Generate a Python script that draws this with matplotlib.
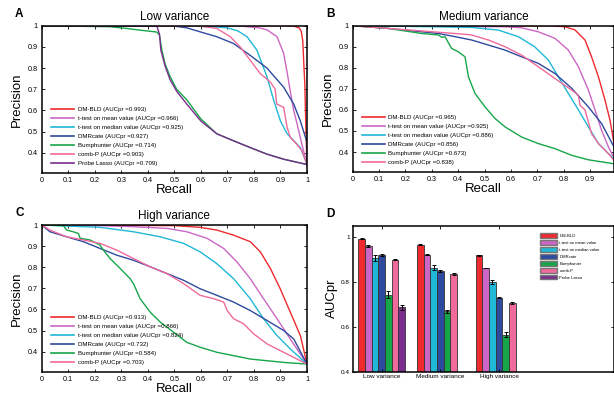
import matplotlib
matplotlib.use("Agg")
import matplotlib.pyplot as plt
import numpy as np

plt.rcParams['font.family'] = ['Liberation Sans', 'DejaVu Sans']

# ---------------- colours ----------------
C_RED = '#EE2A2F'
C_MEAN = '#CC66C4'
C_MED = '#1FB8D6'
C_DMR = '#2E4A9E'
C_BUMP = '#16A64A'
C_COMBP = '#F06A9C'
C_PL = '#7A2E8E'

# ---------------- Panel A: Low variance ----------------
a_bld_r = [0, 0.9, 0.95, 0.97, 0.978, 0.984, 0.988, 0.992, 0.995, 0.998, 1.0]
a_bld_p = [1, 1, 0.998, 0.99, 0.975, 0.93, 0.82, 0.72, 0.55, 0.42, 0.34]
a_mean_r = [0, 0.75, 0.82, 0.85, 0.887, 0.912, 0.925, 0.937, 0.95, 0.962, 0.981, 1.0]
a_mean_p = [1, 0.998, 0.99, 0.98, 0.948, 0.87, 0.78, 0.69, 0.6, 0.54, 0.44, 0.345]
a_med_r = [0, 0.5, 0.65, 0.7, 0.74, 0.774, 0.811, 0.849, 0.874, 0.9, 0.925, 0.95, 0.975, 1.0]
a_med_p = [1, 1, 0.995, 0.99, 0.975, 0.948, 0.885, 0.76, 0.65, 0.55, 0.49, 0.457, 0.425, 0.345]
a_dmr_r = [0, 0.5, 0.547, 0.6, 0.66, 0.723, 0.786, 0.849, 0.912, 0.95, 0.975, 1.0, 1.0]
a_dmr_p = [1, 0.998, 0.99, 0.97, 0.948, 0.916, 0.86, 0.8, 0.71, 0.63, 0.55, 0.45, 0.34]
a_bump_r = [0, 0.258, 0.32, 0.371, 0.434, 0.444, 0.453, 0.465, 0.484, 0.509, 0.547, 0.6, 0.66, 0.723, 0.786, 0.849, 0.912, 1.0]
a_bump_p = [1, 0.995, 0.987, 0.979, 0.97, 0.955, 0.885, 0.82, 0.76, 0.70, 0.65, 0.56, 0.49, 0.457, 0.425, 0.394, 0.37, 0.345]
a_combp_r = [0, 0.6, 0.66, 0.711, 0.748, 0.786, 0.824, 0.862, 0.88, 0.886, 0.912, 0.925, 0.937, 0.962, 0.981, 1.0]
a_combp_p = [1, 0.998, 0.987, 0.948, 0.9, 0.837, 0.774, 0.734, 0.7, 0.63, 0.615, 0.52, 0.473, 0.44, 0.41, 0.345]
a_pl_r = [0, 0.434, 0.444, 0.449, 0.465, 0.484, 0.509, 0.547, 0.6, 0.66, 0.723, 0.786, 0.849, 0.912, 1.0]
a_pl_p = [1, 0.998, 0.96, 0.885, 0.81, 0.745, 0.69, 0.63, 0.55, 0.49, 0.457, 0.425, 0.394, 0.37, 0.345]
a_labels = ['DM-BLD (AUCpr =0.993)', 't-test on mean value (AUCpr =0.966)',
            't-test on median value (AUCpr =0.925)', 'DMRcate (AUCpr =0.927)',
            'Bumphunter (AUCpr =0.714)', 'comb-P (AUCpr =0.903)',
            'Probe Lasso (AUCpr =0.709)']

# ---------------- Panel B: Medium variance ----------------
b_bld_r = [0, 0.75, 0.805, 0.843, 0.881, 0.906, 0.932, 0.957, 0.976, 0.989, 1.0]
b_bld_p = [1, 1, 0.995, 0.98, 0.932, 0.852, 0.757, 0.646, 0.55, 0.456, 0.35]
b_mean_r = [0, 0.578, 0.641, 0.704, 0.767, 0.818, 0.856, 0.894, 0.919, 0.944, 0.97, 0.989, 1.0]
b_mean_p = [1, 0.995, 0.99, 0.971, 0.94, 0.884, 0.805, 0.694, 0.6, 0.503, 0.424, 0.376, 0.35]
b_med_r = [0, 0.2, 0.45, 0.553, 0.628, 0.69, 0.742, 0.78, 0.818, 0.856, 0.894, 0.932, 0.97, 0.991, 1.0]
b_med_p = [1, 0.997, 0.992, 0.979, 0.948, 0.9, 0.837, 0.757, 0.678, 0.6, 0.519, 0.44, 0.392, 0.368, 0.35]
b_dmr_r = [0, 0.135, 0.262, 0.325, 0.388, 0.451, 0.515, 0.578, 0.641, 0.704, 0.767, 0.831, 0.894, 0.944, 0.991, 1.0]
b_dmr_p = [1, 0.987, 0.971, 0.963, 0.948, 0.932, 0.908, 0.884, 0.852, 0.821, 0.773, 0.702, 0.614, 0.535, 0.424, 0.35]
b_bump_r = [0, 0.135, 0.262, 0.325, 0.338, 0.35, 0.375, 0.401, 0.426, 0.439, 0.464, 0.502, 0.54, 0.578, 0.641, 0.704, 0.767, 0.831, 0.894, 0.991, 1.0]
b_bump_p = [1, 0.987, 0.963, 0.956, 0.945, 0.948, 0.892, 0.876, 0.852, 0.757, 0.678, 0.614, 0.559, 0.519, 0.471, 0.44, 0.416, 0.384, 0.363, 0.344, 0.342]
b_combp_r = [0, 0.135, 0.262, 0.388, 0.451, 0.515, 0.578, 0.641, 0.704, 0.767, 0.831, 0.856, 0.862, 0.881, 0.906, 0.932, 0.97, 0.991, 1.0]
b_combp_p = [1, 0.987, 0.975, 0.963, 0.956, 0.932, 0.9, 0.86, 0.805, 0.749, 0.694, 0.67, 0.622, 0.6, 0.487, 0.44, 0.392, 0.36, 0.35]
b_labels = ['DM-BLD (AUCpr =0.965)', 't-test on mean value (AUCpr =0.925)',
            't-test on median value (AUCpr =0.886)', 'DMRcate (AUCpr =0.856)',
            'Bumphunter (AUCpr =0.673)', 'comb-P (AUCpr =0.838)']

# ---------------- Panel C: High variance ----------------
c_bld_r = [0, 0.5, 0.597, 0.66, 0.723, 0.786, 0.824, 0.862, 0.899, 0.937, 0.975, 1.0]
c_bld_p = [1, 0.997, 0.989, 0.976, 0.952, 0.921, 0.873, 0.794, 0.698, 0.587, 0.476, 0.341]
c_mean_r = [0, 0.22, 0.346, 0.472, 0.547, 0.623, 0.686, 0.736, 0.786, 0.836, 0.887, 0.937, 1.0]
c_mean_p = [1, 0.997, 0.992, 0.984, 0.968, 0.937, 0.889, 0.825, 0.746, 0.651, 0.556, 0.46, 0.341]
c_med_r = [0, 0.094, 0.22, 0.346, 0.447, 0.535, 0.597, 0.66, 0.723, 0.786, 0.836, 0.887, 0.937, 1.0]
c_med_p = [1, 0.995, 0.989, 0.968, 0.944, 0.913, 0.873, 0.817, 0.746, 0.651, 0.556, 0.476, 0.413, 0.341]
c_dmr_r = [0, 0.031, 0.094, 0.157, 0.22, 0.283, 0.346, 0.409, 0.472, 0.535, 0.597, 0.66, 0.723, 0.786, 0.849, 0.912, 0.95, 1.0]
c_dmr_p = [1, 0.968, 0.944, 0.921, 0.889, 0.857, 0.833, 0.802, 0.77, 0.738, 0.698, 0.667, 0.635, 0.595, 0.548, 0.5, 0.46, 0.341]
c_bump_r = [0, 0.082, 0.094, 0.119, 0.138, 0.145, 0.182, 0.22, 0.233, 0.258, 0.296, 0.333, 0.346, 0.371, 0.409, 0.447, 0.497, 0.547, 0.597, 0.66, 0.723, 0.786, 0.849, 0.912, 1.0]
c_bump_p = [1, 0.997, 0.976, 0.968, 0.96, 0.937, 0.929, 0.905, 0.88, 0.841, 0.794, 0.746, 0.722, 0.651, 0.587, 0.54, 0.492, 0.444, 0.421, 0.397, 0.381, 0.365, 0.357, 0.349, 0.341]
c_combp_r = [0, 0.031, 0.094, 0.157, 0.22, 0.283, 0.346, 0.409, 0.472, 0.535, 0.597, 0.648, 0.686, 0.699, 0.723, 0.761, 0.799, 0.849, 0.912, 1.0]
c_combp_p = [1, 0.976, 0.944, 0.929, 0.913, 0.881, 0.841, 0.802, 0.77, 0.722, 0.667, 0.651, 0.635, 0.595, 0.556, 0.532, 0.484, 0.437, 0.397, 0.341]
c_labels = ['DM-BLD (AUCpr =0.913)', 't-test on mean value (AUCpr =0.866)',
            't-test on median value (AUCpr =0.824)', 'DMRcate (AUCpr =0.732)',
            'Bumphunter (AUCpr =0.584)', 'comb-P (AUCpr =0.703)']

# ---------------- Panel D: bar chart ----------------
d_groups = ['Low variance', 'Medium variance', 'High variance']
d_methods = ['DM-BLD', 't-test on mean value', 't-test on median value', 'DMRcate',
             'Bumphunter', 'comb-P', 'Probe Lasso']
d_low = [0.994, 0.962, 0.908, 0.922, 0.744, 0.900, 0.688]
d_low_err = [0.003, 0.003, 0.012, 0.004, 0.016, 0.003, 0.012]
d_med = [0.968, 0.923, 0.865, 0.851, 0.669, 0.836]
d_med_err = [0.002, 0.003, 0.012, 0.004, 0.006, 0.004]
d_high = [0.919, 0.863, 0.800, 0.731, 0.565, 0.707]
d_high_err = [0.004, 0.002, 0.010, 0.004, 0.012, 0.005]

colors7 = [C_RED, C_MEAN, C_MED, C_DMR, C_BUMP, C_COMBP, C_PL]

W, H = 614, 400
fig = plt.figure(figsize=(W / 100, H / 100), dpi=100)


def px_axes(x0, y0, x1, y1):
    return fig.add_axes([x0 / W, 1 - y1 / H, (x1 - x0) / W, (y1 - y0) / H])


def style_axes(ax):
    for s in ax.spines.values():
        s.set_linewidth(1.1)
    ax.tick_params(direction='in', length=2.5, width=0.6, labelsize=5.2,
                   top=True, right=True, pad=3)


def pr_panel(ax, curves, labels, title, letter, xmax):
    for (r, p), c, lab in zip(curves, colors7, labels):
        ax.plot(r, p, color=c, lw=1.0, label=lab)
    ax.set_xlim(0, xmax)
    ax.set_ylim(0.305, 1.0)
    xt = [v for v in np.round(np.arange(0, 1.01, 0.1), 1) if v <= xmax]
    ax.set_xticks(xt)
    ax.set_xticklabels(['0' if v == 0 else ('1' if v == 1 else '%.1f' % v) for v in xt])
    ax.set_yticks(np.arange(0.4, 1.01, 0.1))
    ax.set_yticklabels(['%.1f' % v for v in np.arange(0.4, 0.95, 0.1)] + ['1'])
    style_axes(ax)
    ax.set_xlabel('Recall', fontsize=9.5, labelpad=0)
    ax.set_ylabel('Precision', fontsize=9.5, labelpad=3)
    ax.set_title(title, fontsize=8.5, pad=4)
    ax.text(-0.1, 1.04, letter, transform=ax.transAxes, fontsize=8.5,
            fontweight='bold', ha='left', va='bottom')
    leg = ax.legend(loc='lower left', bbox_to_anchor=(0.02, 0.02), frameon=False,
                    fontsize=4.4, handlelength=3.8, handletextpad=0.6,
                    labelspacing=0.62, borderaxespad=0.2)
    for l in leg.get_lines():
        l.set_linewidth(1.2)


axA = px_axes(41.7, 25.7, 307, 173)
pr_panel(axA, [(a_bld_r, a_bld_p), (a_mean_r, a_mean_p), (a_med_r, a_med_p),
               (a_dmr_r, a_dmr_p), (a_bump_r, a_bump_p), (a_combp_r, a_combp_p),
               (a_pl_r, a_pl_p)], a_labels, 'Low variance', 'A', 1.0)

axB = px_axes(352.7, 25.7, 614, 172)
pr_panel(axB, [(b_bld_r, b_bld_p), (b_mean_r, b_mean_p), (b_med_r, b_med_p),
               (b_dmr_r, b_dmr_p), (b_bump_r, b_bump_p), (b_combp_r, b_combp_p)],
         b_labels, 'Medium variance', 'B', 0.991)

axC = px_axes(41.7, 225, 307, 371.7)
pr_panel(axC, [(c_bld_r, c_bld_p), (c_mean_r, c_mean_p), (c_med_r, c_med_p),
               (c_dmr_r, c_dmr_p), (c_bump_r, c_bump_p), (c_combp_r, c_combp_p)],
         c_labels, 'High variance', 'C', 1.0)

# Panel D
axD = px_axes(352.7, 225.7, 614, 371.7)
bw = 0.114
group_vals = [(d_low, d_low_err), (d_med, d_med_err), (d_high, d_high_err)]
for gi, (vals, errs) in enumerate(group_vals):
    for mi, (v, e) in enumerate(zip(vals, errs)):
        x = gi + 1 + (mi - 3) * bw
        axD.bar(x, v - 0.4, bottom=0.4, width=bw, color=colors7[mi],
                edgecolor='#333333', linewidth=0.6,
                label=d_methods[mi] if gi == 0 else None)
        axD.errorbar(x, v, yerr=e, color='black', lw=0.7, capsize=1.3,
                     capthick=0.7)
axD.set_xlim(0.505, 4.96)
axD.set_ylim(0.4, 1.052)
axD.set_xticks([1, 2, 3])
axD.set_xticklabels(d_groups)
axD.set_yticks([0.4, 0.6, 0.8, 1.0])
axD.set_yticklabels(['0.4', '0.6', '0.8', '1'])
style_axes(axD)
axD.tick_params(labelsize=4.6, pad=2)
axD.set_ylabel('AUCpr', fontsize=9.5, labelpad=2)
axD.text(-0.1, 1.04, 'D', transform=axD.transAxes, fontsize=8.5,
         fontweight='bold', ha='left', va='bottom')
legD = axD.legend(loc='upper left', bbox_to_anchor=(0.71, 0.96), frameon=False,
                  fontsize=3.0, handlelength=4.2, handleheight=1.3,
                  handletextpad=0.5, labelspacing=0.55, borderaxespad=0)
for p in legD.get_patches():
    p.set_edgecolor('#777777')
    p.set_linewidth(1.0)

fig.savefig('out.png', dpi=100)
